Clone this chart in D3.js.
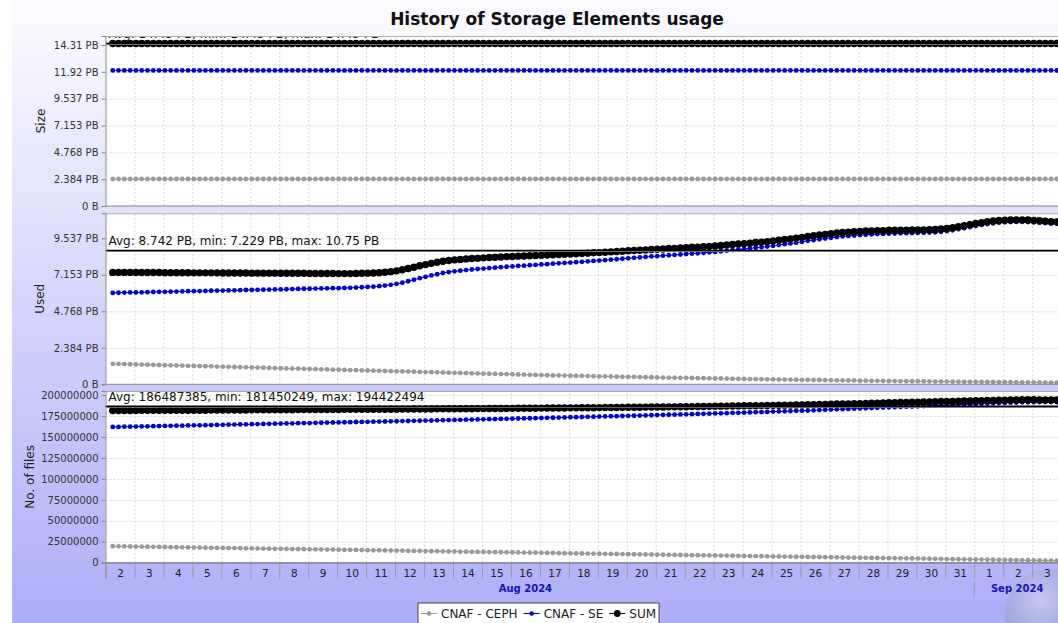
<!DOCTYPE html>
<html><head><meta charset="utf-8">
<script src="https://cdn.jsdelivr.net/npm/d3@7"></script>
<style>html,body{margin:0;padding:0;background:#fff;overflow:hidden}svg{display:block;font-family:"DejaVu Sans",sans-serif}</style>
</head><body><svg id="c" width="1058" height="623"></svg>
<script>
const chartTitle = "History of Storage Elements usage";
const seriesNames = ["CNAF - CEPH", "CNAF - SE", "SUM"];
const seriesColors = ["#999999", "#0000cc", "#000000"];
const firstSample = "2024-08-02T06:00:00";
const sampleStepHours = 4.8;
const axisStart = "2024-08-02T00:00:00";
const axisEnd = "2024-09-03T23:00:00";
const monthLabels = ["Aug 2024", "Sep 2024"];

// Size (PB)
const sizeCeph = [2.4,2.4,2.4,2.4,
2.4,2.4,2.4,2.4,2.4,2.4,2.4,2.4,2.4,2.4,2.4,2.4,2.4,2.4,2.4,2.4,2.4,2.4,2.4,2.4,
2.4,2.4,2.4,2.4,2.4,2.4,2.4,2.4,2.4,2.4,2.4,2.4,2.4,2.4,2.4,2.4,2.4,2.4,2.4,2.4,
2.4,2.4,2.4,2.4,2.4,2.4,2.4,2.4,2.4,2.4,2.4,2.4,2.4,2.4,2.4,2.4,2.4,2.4,2.4,2.4,
2.4,2.4,2.4,2.4,2.4,2.4,2.4,2.4,2.4,2.4,2.4,2.4,2.4,2.4,2.4,2.4,2.4,2.4,2.4,2.4,
2.4,2.4,2.4,2.4,2.4,2.4,2.4,2.4,2.4,2.4,2.4,2.4,2.4,2.4,2.4,2.4,2.4,2.4,2.4,2.4,
2.4,2.4,2.4,2.4,2.4,2.4,2.4,2.4,2.4,2.4,2.4,2.4,2.4,2.4,2.4,2.4,2.4,2.4,2.4,2.4,
2.4,2.4,2.4,2.4,2.4,2.4,2.4,2.4,2.4,2.4,2.4,2.4,2.4,2.4,2.4,2.4,2.4,2.4,2.4,2.4,
2.4,2.4,2.4,2.4,2.4,2.4,2.4,2.4,2.4,2.4,2.4,2.4,2.4,2.4,2.4,2.4,2.4,2.4,2.4,2.4];
const sizeSe = [12.05,12.05,12.05,12.05,
12.05,12.05,12.05,12.05,12.05,12.05,12.05,12.05,12.05,12.05,12.05,12.05,12.05,12.05,12.05,12.05,12.05,12.05,12.05,12.05,
12.05,12.05,12.05,12.05,12.05,12.05,12.05,12.05,12.05,12.05,12.05,12.05,12.05,12.05,12.05,12.05,12.05,12.05,12.05,12.05,
12.05,12.05,12.05,12.05,12.05,12.05,12.05,12.05,12.05,12.05,12.05,12.05,12.05,12.05,12.05,12.05,12.05,12.05,12.05,12.05,
12.05,12.05,12.05,12.05,12.05,12.05,12.05,12.05,12.05,12.05,12.05,12.05,12.05,12.05,12.05,12.05,12.05,12.05,12.05,12.05,
12.05,12.05,12.05,12.05,12.05,12.05,12.05,12.05,12.05,12.05,12.05,12.05,12.05,12.05,12.05,12.05,12.05,12.05,12.05,12.05,
12.05,12.05,12.05,12.05,12.05,12.05,12.05,12.05,12.05,12.05,12.05,12.05,12.05,12.05,12.05,12.05,12.05,12.05,12.05,12.05,
12.05,12.05,12.05,12.05,12.05,12.05,12.05,12.05,12.05,12.05,12.05,12.05,12.05,12.05,12.05,12.05,12.05,12.05,12.05,12.05,
12.05,12.05,12.05,12.05,12.05,12.05,12.05,12.05,12.05,12.05,12.05,12.05,12.05,12.05,12.05,12.05,12.05,12.05,12.05,12.05];

// Used (PB)
const usedCeph = [1.34,1.33,1.32,1.31,
1.30,1.29,1.28,1.27,1.26, 1.25,1.24,1.23,1.22,1.21, 1.20,1.19,1.18,1.17,1.16, 1.15,1.14,1.13,1.12,1.11,
1.10,1.09,1.08,1.07,1.06, 1.05,1.04,1.03,1.02,1.01, 1.00,0.99,0.98,0.97,0.96, 0.95,0.94,0.93,0.92,0.91,
0.90,0.89,0.88,0.87,0.86, 0.85,0.84,0.83,0.82,0.81, 0.80,0.79,0.78,0.77,0.76, 0.75,0.74,0.73,0.72,0.71,
0.70,0.69,0.68,0.67,0.66, 0.65,0.64,0.63,0.62,0.61, 0.60,0.59,0.58,0.58,0.57, 0.56,0.55,0.55,0.54,0.53,
0.52,0.52,0.51,0.50,0.49, 0.49,0.48,0.47,0.46,0.46, 0.45,0.44,0.44,0.43,0.42, 0.42,0.41,0.40,0.40,0.39,
0.38,0.38,0.37,0.36,0.36, 0.35,0.34,0.34,0.33,0.32, 0.32,0.31,0.31,0.30,0.30, 0.29,0.29,0.28,0.28,0.27,
0.27,0.26,0.26,0.25,0.25, 0.24,0.24,0.23,0.23,0.22, 0.22,0.21,0.21,0.20,0.20, 0.20,0.19,0.19,0.18,0.18,
0.18,0.17,0.17,0.16,0.16, 0.16,0.15,0.15,0.15,0.14, 0.14,0.14,0.13,0.13,0.13, 0.12,0.12,0.12,0.11,0.11];
const usedSe = [5.97,5.98,5.99,6.00,
6.00,6.01,6.02,6.03,6.04, 6.04,6.05,6.06,6.07,6.08, 6.08,6.09,6.10,6.11,6.12, 6.12,6.13,6.14,6.15,6.16,
6.16,6.17,6.18,6.19,6.20, 6.20,6.21,6.22,6.23,6.24, 6.24,6.25,6.26,6.27,6.28, 6.28,6.29,6.30,6.32,6.34,
6.36,6.38,6.41,6.45,6.50, 6.56,6.64,6.73,6.83,6.93, 7.02,7.11,7.19,7.27,7.33, 7.38,7.42,7.46,7.50,7.53,
7.56,7.59,7.62,7.65,7.68, 7.70,7.73,7.75,7.78,7.80, 7.83,7.85,7.88,7.90,7.93, 7.95,7.98,8.00,8.03,8.06,
8.08,8.11,8.14,8.17,8.20, 8.23,8.26,8.29,8.32,8.35, 8.37,8.40,8.43,8.45,8.48, 8.51,8.54,8.56,8.59,8.62,
8.65,8.69,8.73,8.77,8.81, 8.84,8.88,8.92,8.96,9.00, 9.05,9.10,9.15,9.20,9.25, 9.31,9.37,9.42,9.47,9.52,
9.57,9.62,9.66,9.69,9.72, 9.75,9.77,9.79,9.81,9.82, 9.84,9.85,9.86,9.87,9.88, 9.89,9.90,9.91,9.93,9.96,
10.00,10.06,10.13,10.20,10.27, 10.34,10.41,10.47,10.52,10.56, 10.58,10.60,10.61,10.61,10.60, 10.58,10.56,10.53,10.51,10.50];

// No. of files (millions)
const filesCeph = [19.6,19.5,19.4,19.3,
19.2,19.1,19.0,18.9,18.8, 18.7,18.5,18.4,18.3,18.2, 18.1,18.0,17.9,17.8,17.7, 17.6,17.5,17.4,17.3,17.2,
17.1,17.0,16.8,16.7,16.6, 16.5,16.4,16.3,16.2,16.1, 16.0,15.9,15.8,15.7,15.6, 15.5,15.4,15.3,15.2,15.0,
14.9,14.8,14.7,14.6,14.5, 14.4,14.3,14.2,14.1,14.0, 13.9,13.8,13.7,13.6,13.5, 13.4,13.2,13.1,13.0,12.9,
12.8,12.7,12.6,12.5,12.4, 12.3,12.2,12.1,12.0,11.9, 11.8,11.7,11.6,11.4,11.3, 11.2,11.1,11.0,10.9,10.8,
10.7,10.6,10.5,10.4,10.3, 10.2,10.1,10.0,9.9,9.8, 9.6,9.5,9.4,9.3,9.2, 9.1,9.0,8.9,8.8,8.7,
8.6,8.5,8.4,8.3,8.2, 8.1,7.9,7.8,7.7,7.6, 7.5,7.4,7.3,7.2,7.1, 7.0,6.9,6.8,6.7,6.6,
6.5,6.4,6.2,6.1,6.0, 5.9,5.8,5.7,5.6,5.5, 5.4,5.3,5.2,5.1,5.0, 4.9,4.8,4.7,4.6,4.5,
4.3,4.2,4.1,4.0,3.9, 3.8,3.7,3.6,3.5,3.4, 3.3,3.2,3.1,3.0,2.9, 2.8,2.6,2.5,2.4,2.3];
const filesSe = [161.9,162.0,162.2,162.3,
162.4,162.6,162.7,162.8,163.0, 163.1,163.3,163.4,163.5,163.7, 163.8,163.9,164.0,164.2,164.3, 164.5,164.6,164.7,164.9,165.0,
165.2,165.3,165.5,165.6,165.8, 165.9,166.1,166.2,166.4,166.5, 166.6,166.8,166.9,167.1,167.2, 167.3,167.5,167.6,167.8,167.9,
168.0,168.2,168.3,168.4,168.6, 168.7,168.9,169.0,169.2,169.3, 169.5,169.6,169.8,170.0,170.1, 170.3,170.4,170.6,170.7,170.9,
171.0,171.2,171.3,171.5,171.6, 171.8,172.0,172.1,172.3,172.4, 172.6,172.8,172.9,173.1,173.3, 173.5,173.6,173.8,174.0,174.1,
174.3,174.5,174.7,174.8,175.0, 175.2,175.3,175.5,175.7,175.9, 176.1,176.3,176.5,176.6,176.8, 177.0,177.2,177.4,177.6,177.8,
178.0,178.2,178.4,178.6,178.8, 179.1,179.3,179.5,179.7,179.9, 180.2,180.4,180.6,180.8,181.1, 181.3,181.5,181.8,182.0,182.3,
182.6,182.9,183.1,183.4,183.7, 183.9,184.2,184.5,184.7,185.0, 185.3,185.5,185.8,186.1,186.3, 186.6,186.8,187.1,187.4,187.7,
187.9,188.2,188.5,188.8,189.0, 189.3,189.5,189.8,190.1,190.4, 190.6,190.9,191.1,191.3,191.4, 191.5,191.6,191.6,191.7,191.7];

const sizeTicks = [0, 2.384, 4.768, 7.153, 9.537, 11.921, 14.305];
const sizeTickLabels = ["0 B","2.384 PB","4.768 PB","7.153 PB","9.537 PB","11.92 PB","14.31 PB"];
const usedTicks = [0, 2.384, 4.768, 7.153, 9.537];
const usedTickLabels = ["0 B","2.384 PB","4.768 PB","7.153 PB","9.537 PB"];
const filesTicks = [0, 25, 50, 75, 100, 125, 150, 175, 200];
const filesTickLabels = ["0","25000000","50000000","75000000","100000000","125000000","150000000","175000000","200000000"];

const sizeAvg = 14.45, usedAvg = 8.742, filesAvg = 186.487385;
const sizeStatsText = "Avg: 14.45 PB, min: 14.45 PB, max: 14.45 PB";
const usedStatsText = "Avg: 8.742 PB, min: 7.229 PB, max: 10.75 PB";
const filesStatsText = "Avg: 186487385, min: 181450249, max: 194422494";

// ---------------- drawing ----------------
const W = 1058, H = 623;
const svg = d3.select("#c");
const defs = svg.append("defs");
const bg = defs.append("linearGradient").attr("id","bg").attr("x1",0).attr("y1",0).attr("x2",0).attr("y2",1);
bg.append("stop").attr("offset","0%").attr("stop-color","#fcfcff");
bg.append("stop").attr("offset","100%").attr("stop-color","#adadf8");
const glob = defs.append("radialGradient").attr("id","globe").attr("cx","40%").attr("cy","35%").attr("r","65%");
glob.append("stop").attr("offset","0%").attr("stop-color","#cfd3ea").attr("stop-opacity",0.7);
glob.append("stop").attr("offset","60%").attr("stop-color","#9ea6d4").attr("stop-opacity",0.6);
glob.append("stop").attr("offset","100%").attr("stop-color","#858dc4").attr("stop-opacity",0.5);

svg.append("rect").attr("width",W).attr("height",H).attr("fill","#fff");
svg.append("rect").attr("x",12).attr("width",W-12).attr("height",H).attr("fill","url(#bg)");
// globe watermark (behind everything)
svg.append("circle").attr("cx",1050).attr("cy",614).attr("r",45).attr("fill","url(#globe)");

svg.append("text").attr("x",557).attr("y",25).attr("text-anchor","middle")
  .attr("font-size",17).attr("font-weight","bold").attr("fill","#111").text(chartTitle);

const plotL = 105.5, plotR = 1060;
const x = d3.scaleTime().domain([new Date(axisStart), new Date(axisEnd)]).range([plotL, plotR]);
const t0 = +new Date(firstSample);
const times = d3.range(sizeCeph.length).map(i => new Date(t0 + i * sampleStepHours * 3600e3));
const dayBounds = d3.timeDay.range(new Date(axisStart), new Date(axisEnd));
const dayMids = dayBounds.map(d => d3.timeHour.offset(d, 12));

const panels = [
  {name:"Size", top:36, bottom:206, max:15.11, ceph:sizeCeph, se:sizeSe, ticks:sizeTicks, labels:sizeTickLabels, avg:sizeAvg, stats:sizeStatsText, tx:41},
  {name:"Used", top:213.3, bottom:384.3, max:11.17, ceph:usedCeph, se:usedSe, ticks:usedTicks, labels:usedTickLabels, avg:usedAvg, stats:usedStatsText, tx:40},
  {name:"No. of files", top:391, bottom:562.7, max:204.8, ceph:filesCeph, se:filesSe, ticks:filesTicks, labels:filesTickLabels, avg:filesAvg, stats:filesStatsText, tx:30}
];

panels.forEach((p, pi) => {
  const y = d3.scaleLinear().domain([0, p.max]).range([p.bottom, p.top]);
  const h = p.bottom - p.top;
  svg.append("rect").attr("x",plotL).attr("y",p.top).attr("width",plotR-plotL).attr("height",h).attr("fill","#fff");
  const cid = "clip" + pi;
  defs.append("clipPath").attr("id",cid).append("rect").attr("x",plotL).attr("y",p.top).attr("width",plotR-plotL).attr("height",h);
  const g = svg.append("g").attr("clip-path",`url(#${cid})`);

  // grid via axes
  const gv = g.append("g").attr("transform",`translate(0,${p.bottom})`)
    .call(d3.axisBottom(x).tickValues(dayBounds.slice(1)).tickSize(-h).tickFormat(""));
  gv.select(".domain").remove();
  gv.selectAll(".tick line").attr("stroke","#d6d6d6").attr("stroke-dasharray","2,2");
  const gh = g.append("g").attr("transform",`translate(${plotL},0)`)
    .call(d3.axisLeft(y).tickValues(p.ticks.filter(t => t > 0)).tickSize(-(plotR-plotL)).tickFormat(""));
  gh.select(".domain").remove();
  gh.selectAll(".tick line").attr("stroke","#d6d6d6").attr("stroke-dasharray","2,2");

  // series
  const sum = p.ceph.map((v, i) => v + p.se[i]);
  const sets = [[p.ceph, seriesColors[0], 2.4], [p.se, seriesColors[1], 2.4], [sum, seriesColors[2], 3.7]];
  sets.forEach(([vals, col, r]) => {
    const line = d3.line().x((d, i) => x(times[i])).y(d => y(d));
    g.append("path").attr("d", line(vals)).attr("fill","none").attr("stroke",col).attr("stroke-width",1);
    g.append("g").selectAll("circle").data(vals).join("circle")
      .attr("cx",(d,i) => x(times[i])).attr("cy",d => y(d)).attr("r",r).attr("fill",col);
  });

  // average line + text
  const ay = y(p.avg);
  g.append("line").attr("x1",plotL).attr("x2",plotR).attr("y1",ay+1).attr("y2",ay+1).attr("stroke","#9a9a9a").attr("stroke-width",1);
  g.append("line").attr("x1",plotL).attr("x2",plotR).attr("y1",ay).attr("y2",ay).attr("stroke","#000").attr("stroke-width",1.6);
  g.append("text").attr("x",plotL+3).attr("y",ay-5).attr("font-size",12).attr("fill","#111").text(p.stats);

  // frame
  svg.append("line").attr("x1",plotL).attr("x2",plotR).attr("y1",p.top+0.5).attr("y2",p.top+0.5).attr("stroke","#b0b0b0");
  svg.append("line").attr("x1",plotL).attr("x2",plotR).attr("y1",p.bottom).attr("y2",p.bottom).attr("stroke","#888");

  // y axis
  const ya = svg.append("g").attr("transform",`translate(${plotL},0)`)
    .call(d3.axisLeft(y).tickValues(p.ticks).tickSize(4).tickPadding(3).tickFormat((d,i) => p.labels[i]));
  ya.select(".domain").attr("stroke","#888");
  ya.selectAll(".tick line").attr("stroke","#888");
  ya.selectAll("text").attr("font-size",10).attr("fill","#333").attr("font-family","DejaVu Sans");

  svg.append("text").attr("transform",`translate(${p.tx},${(p.top+p.bottom)/2}) rotate(-90)`)
    .attr("text-anchor","middle").attr("dy","0.35em").attr("font-size",12).attr("fill","#222").text(p.name);

  if (pi === panels.length - 1) {
    const gx = svg.append("g").attr("transform",`translate(0,${p.bottom})`)
      .call(d3.axisBottom(x).tickValues(dayBounds).tickSize(16).tickFormat(""));
    gx.select(".domain").attr("stroke","#888");
    gx.selectAll(".tick line").attr("stroke","#9a9aa8");
    const gl = svg.append("g").attr("transform",`translate(0,${p.bottom})`)
      .call(d3.axisBottom(x).tickValues(dayMids).tickSize(0).tickPadding(6.5).tickFormat(d3.timeFormat("%-d")));
    gl.select(".domain").remove();
    gl.selectAll("text").attr("font-size",10.5).attr("fill","#222").attr("font-family","DejaVu Sans");

    // month row
    const sep1 = d3.timeMonth.ceil(new Date(axisStart));
    const monthStart = d3.timeMonth.floor(new Date(axisStart));
    svg.append("line").attr("x1",x(sep1)).attr("x2",x(sep1)).attr("y1",p.bottom+19).attr("y2",p.bottom+34).attr("stroke","#9a9aa8");
    const augMid = new Date((+monthStart + +sep1) / 2);
    const sepMid = new Date((+sep1 + +new Date(axisEnd)) / 2);
    [[augMid, monthLabels[0]], [sepMid, monthLabels[1]]].forEach(([d, lab]) => {
      svg.append("text").attr("x", x(d)).attr("y", p.bottom + 29).attr("text-anchor","middle")
        .attr("font-size",10).attr("font-weight","bold").attr("fill","#1414b4").text(lab);
    });
  }
});

// legend
const lg = svg.append("g").attr("transform","translate(418,603)");
const box = lg.append("rect").attr("x",0).attr("y",0).attr("height",24).attr("fill","#fff").attr("stroke","#444");
let cx = 3;
seriesNames.forEach((nm, i) => {
  const col = seriesColors[i];
  lg.append("line").attr("x1",cx).attr("x2",cx+16).attr("y1",10.5).attr("y2",10.5).attr("stroke",col).attr("stroke-width",1);
  lg.append("circle").attr("cx",cx+8).attr("cy",10.5).attr("r", i === 2 ? 3.4 : 2.3).attr("fill",col);
  const t = lg.append("text").attr("x",cx+20).attr("y",15).attr("font-size",12).attr("fill","#222").text(nm);
  cx = cx + 20 + t.node().getComputedTextLength() + 6;
});
box.attr("width", cx - 3);
</script>
</body></html>
